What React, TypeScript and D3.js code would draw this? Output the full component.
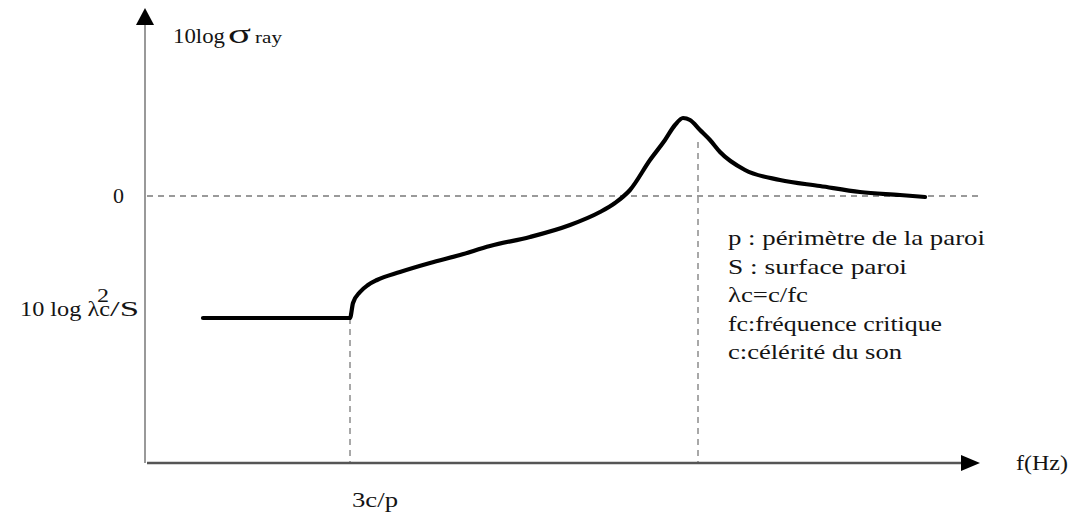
import React from 'react';
import { scaleLinear, line, curveMonotoneX } from 'd3';

// frequency (arbitrary units) vs 10log(sigma) in dB
const freq = [58, 205, 208, 215, 223, 232, 255, 285, 315, 345, 385, 425, 455, 470, 485, 505, 520, 530, 538, 545, 555, 565, 575, 600, 635, 675, 715, 755, 780];
const level = [-12.2, -12.2, -10.7, -9.6, -8.9, -8.4, -7.6, -6.7, -5.9, -5.0, -4.1, -2.9, -1.6, -0.7, 0.6, 3.6, 5.6, 7.1, 7.8, 7.6, 6.6, 5.6, 4.4, 2.6, 1.6, 1.0, 0.4, 0.1, -0.1];

const fLow = 205; // 3c/p
const fPeak = 553; // fc
const levelLow = -12.2;
const xMax = 835;
const yMin = -26.7;
const yMax = 18.8;

const legendLines = [
  'p : périmètre de la paroi',
  'S : surface paroi',
  'λc=c/fc',
  'fc:fréquence critique',
  'c:célérité du son',
];
const legendWidths = [257, 179, 80, 214, 174];

const FONT = '"Liberation Serif", "Times New Roman", serif';
const INK = '#141414';
const DASH = '#7a7a7a';

function Label(props: { x: number; y: number; w?: number; size?: number; anchor?: string; children: React.ReactNode }) {
  const { x, y, w, size = 22, anchor = 'start', children } = props;
  return (
    <text
      x={x}
      y={y}
      fontFamily={FONT}
      fill={INK}
      fontSize={size}
      textAnchor={anchor}
      textLength={w}
      lengthAdjust={w ? 'spacingAndGlyphs' : undefined}
    >
      {children}
    </text>
  );
}

export default function App() {
  const width = 1074;
  const height = 523;
  const x = scaleLinear().domain([0, xMax]).range([145, 980]);
  const y = scaleLinear().domain([yMin, yMax]).range([463, 8]);

  const pts: [number, number][] = freq.map((f, i) => [f, level[i]]);
  const path = line<[number, number]>()
    .x(d => x(d[0]))
    .y(d => y(d[1]))
    .curve(curveMonotoneX)(pts);

  const x0 = x(0);
  const yBottom = y(yMin);
  const yTop = y(yMax);
  const xEnd = x(xMax);

  return (
    <svg width={width} height={height} style={{ position: 'fixed', left: 0, top: 0, background: '#fff' }}>
      {/* dashed reference lines */}
      <line x1={x(2)} x2={xEnd} y1={y(0)} y2={y(0)} stroke={DASH} strokeWidth={1.3} strokeDasharray="6,5" />
      <line x1={x(fLow)} x2={x(fLow)} y1={y(levelLow)} y2={yBottom} stroke={DASH} strokeWidth={1.3} strokeDasharray="6,5" />
      <line x1={x(fPeak)} x2={x(fPeak)} y1={y(5.4)} y2={yBottom} stroke={DASH} strokeWidth={1.3} strokeDasharray="6,5" />

      {/* axes */}
      <line x1={x0} x2={x0} y1={yBottom} y2={yTop + 14} stroke="#777" strokeWidth={1.5} />
      <polygon points={`${x0},${yTop} ${x0 - 9},${yTop + 17} ${x0 + 9},${yTop + 17}`} fill="#000" />
      <line x1={x0 + 2} x2={xEnd - 14} y1={yBottom} y2={yBottom} stroke="#555" strokeWidth={2.5} />
      <polygon points={`${xEnd},${yBottom} ${xEnd - 19},${yBottom - 8} ${xEnd - 19},${yBottom + 8}`} fill="#000" />

      {/* curve */}
      <path d={path ?? ''} fill="none" stroke="#000" strokeWidth={4.2} strokeLinejoin="round" strokeLinecap="round" />

      {/* labels */}
      <Label x={173} y={43} w={52}>10log</Label>
      <Label x={228} y={43} w={23} size={28}>σ</Label>
      <Label x={255} y={43} w={27} size={17}>ray</Label>

      <Label x={124} y={203} anchor="end">0</Label>

      <Label x={20} y={316} w={90}>10 log λc</Label>
      <Label x={97} y={302} w={12} size={19}>2</Label>
      <Label x={110} y={316} w={29}>/S</Label>

      <Label x={352} y={507} w={46}>3c/p</Label>
      <Label x={1016} y={470} w={52}>f(Hz)</Label>

      {legendLines.map((t, i) => (
        <Label key={i} x={728} y={245 + i * 28.5} w={legendWidths[i]}>
          {t}
        </Label>
      ))}
    </svg>
  );
}
